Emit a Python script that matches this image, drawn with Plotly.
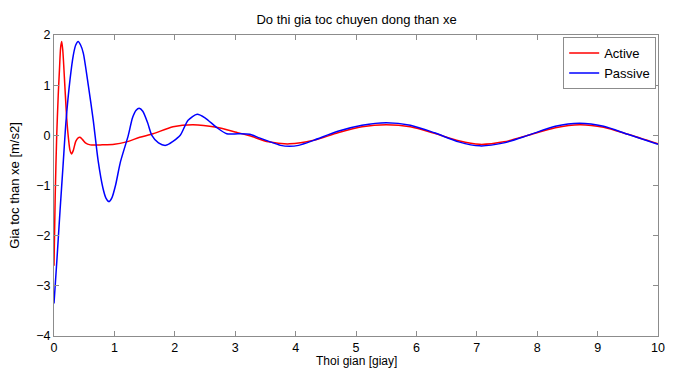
import plotly.graph_objects as go

# Body acceleration response, active vs passive suspension
t_active = [0, 0.02, 0.045, 0.07, 0.09, 0.11, 0.127, 0.145, 0.18, 0.21, 0.24, 0.265,
            0.29, 0.32, 0.36, 0.4, 0.43, 0.47, 0.52, 0.6, 0.8, 1.0, 1.2, 1.42, 1.64,
            1.97, 2.3, 2.69, 3.02, 3.24, 3.55, 3.9, 4.3, 4.7, 5.1, 5.5, 5.9, 6.3, 6.7,
            7.05, 7.45, 7.85, 8.3, 8.7, 9.1, 9.5, 10]
a_active = [-2.6, -1.2, 0.0, 0.8, 1.3, 1.75, 1.87, 1.7, 0.98, 0.35, -0.07, -0.3,
            -0.37, -0.3, -0.12, -0.05, -0.04, -0.08, -0.15, -0.19, -0.19, -0.18, -0.13, -0.04, 0.03,
            0.17, 0.21, 0.16, 0.06, -0.01, -0.13, -0.17, -0.1, 0.05, 0.17, 0.21, 0.17, 0.04, -0.11,
            -0.18, -0.13, 0.0, 0.15, 0.21, 0.16, 0.02, -0.17]

t_passive = [0, 0.05, 0.1, 0.15, 0.2, 0.265, 0.32, 0.36, 0.4, 0.44, 0.485, 0.57, 0.65,
             0.73, 0.81, 0.86, 0.91, 0.96, 1.02, 1.1, 1.23, 1.3, 1.36, 1.41, 1.47, 1.55,
             1.62, 1.73, 1.85, 1.97, 2.09, 2.22, 2.37, 2.5, 2.69, 2.86, 3.05, 3.24, 3.4,
             3.58, 3.75, 3.9, 4.05, 4.3, 4.7, 5.1, 5.5, 5.9, 6.3, 6.7, 7.05, 7.45, 7.85,
             8.3, 8.7, 9.1, 9.5, 10]
a_passive = [-3.35, -2.45, -1.5, -0.6, 0.3, 1.11, 1.6, 1.8, 1.87, 1.8, 1.64, 0.98, 0.3,
             -0.5, -1.05, -1.25, -1.32, -1.24, -0.99, -0.53, 0.0, 0.35, 0.5, 0.54, 0.48, 0.25,
             0.0, -0.15, -0.2, -0.12, 0.0, 0.3, 0.42, 0.35, 0.16, 0.03, 0.03, 0.02, -0.05,
             -0.13, -0.2, -0.22, -0.2, -0.1, 0.08, 0.2, 0.25, 0.2, 0.05, -0.13, -0.21, -0.15, 0.0,
             0.18, 0.24, 0.18, 0.02, -0.18]

x_ticks = [0, 1, 2, 3, 4, 5, 6, 7, 8, 9, 10]
y_ticks = [-4, -3, -2, -1, 0, 1, 2]

font_family = "Liberation Sans, Arial, sans-serif"

fig = go.Figure()
fig.add_trace(go.Scatter(x=t_active, y=a_active, mode="lines", name="Active",
                         line=dict(color="#ff0000", width=1.5, shape="spline", smoothing=0.7)))
fig.add_trace(go.Scatter(x=t_passive, y=a_passive, mode="lines", name="Passive",
                         line=dict(color="#0000ff", width=1.5, shape="spline", smoothing=0.7)))

axis_common = dict(showline=True, linecolor="#8c8c8c", linewidth=1, mirror="ticks",
                   ticks="inside", ticklen=5, tickcolor="#8c8c8c", showgrid=False,
                   zeroline=False, automargin=False,
                   tickfont=dict(size=12.5, color="#000000", family=font_family))

fig.update_layout(
    width=683, height=369,
    margin=dict(l=54, r=25, t=35, b=33),
    paper_bgcolor="white", plot_bgcolor="white",
    font=dict(family=font_family, size=13, color="#000000"),
    title=dict(text="Do thi gia toc chuyen dong than xe", x=0.522, xanchor="center",
               y=0.948, yanchor="middle", font=dict(size=13)),
    xaxis=dict(range=[0, 10], tickvals=x_ticks, **axis_common),
    yaxis=dict(range=[-4, 2], tickvals=y_ticks, **axis_common),
    legend=dict(x=0.997, y=0.993, xanchor="right", yanchor="top",
                bordercolor="#8c8c8c", borderwidth=1, bgcolor="white",
                font=dict(size=13), tracegroupgap=0, itemwidth=30),
    showlegend=True,
    annotations=[
        dict(text="Thoi gian [giay]", xref="paper", yref="paper", x=0.5, y=-0.083,
             xanchor="center", yanchor="middle", showarrow=False, borderpad=0,
             font=dict(size=12)),
        dict(text="Gia toc than xe [m/s2]", xref="paper", yref="paper", x=-0.066, y=0.5,
             xanchor="center", yanchor="middle", textangle=-90, showarrow=False,
             borderpad=0, font=dict(size=13)),
    ],
)

fig.write_html("out.html")
